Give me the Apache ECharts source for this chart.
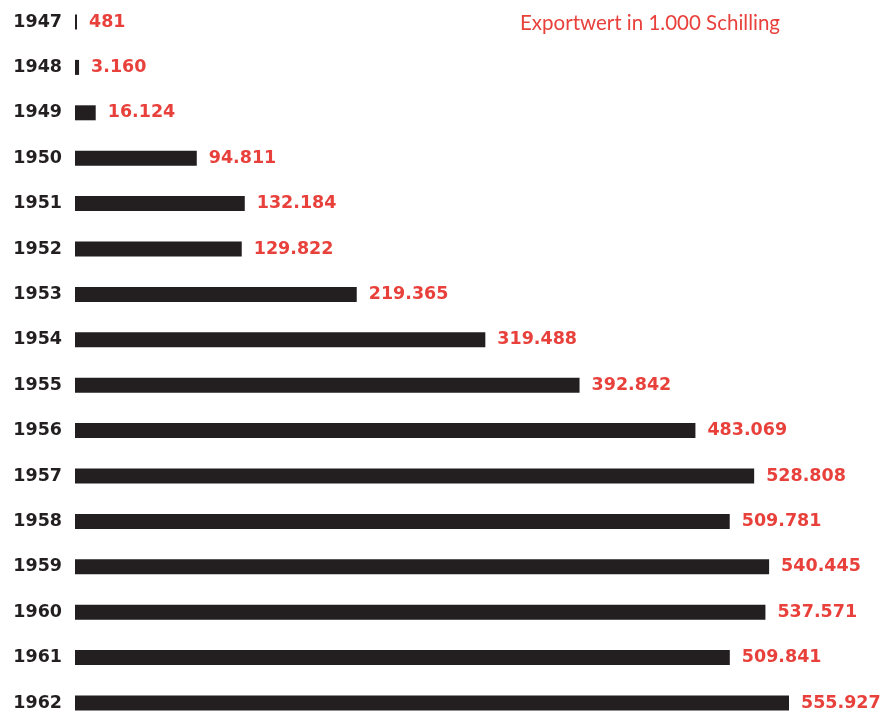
<!DOCTYPE html>
<html><head><meta charset="utf-8">
<script src="https://cdn.jsdelivr.net/npm/echarts@6/dist/echarts.min.js"></script>
<style>html,body{margin:0;padding:0;background:#fff}#c{width:884px;height:712px}</style>
</head><body><div id="c"></div>
<script>
const years = ['1947','1948','1949','1950','1951','1952','1953','1954','1955','1956','1957','1958','1959','1960','1961','1962'];
const exportValues = [481, 3160, 16124, 94811, 132184, 129822, 219365, 319488, 392842, 483069, 528808, 509781, 540445, 537571, 509841, 555927];
const titleText = 'Exportwert in 1.000 Schilling';

function fmt(v){ return String(v).replace(/\B(?=(\d{3})+(?!\d))/g, '.'); }

const chart = echarts.init(document.getElementById('c'));
chart.setOption({
  animation: false,
  backgroundColor: '#fff',
  title: {
    text: titleText, right: 99, top: 8,
    textStyle: {fontFamily: 'Lato', fontWeight: 'normal', fontSize: 20.5, color: '#e8413c'}
  },
  grid: {left: 75, width: 714, top: 22, bottom: 9, containLabel: false},
  xAxis: {type: 'value', min: 0, max: 555927, show: false},
  yAxis: {
    type: 'category', data: years, inverse: true, boundaryGap: false,
    axisLine: {show: false}, axisTick: {show: false},
    axisLabel: {margin: 13, fontFamily: 'DejaVu Sans', fontWeight: 'bold', fontSize: 17.5, color: '#231f20'}
  },
  series: [{
    type: 'bar', data: exportValues, barWidth: 15, barMinHeight: 2, clip: false,
    itemStyle: {color: '#231f20'},
    label: {
      show: true, position: 'right', distance: 12,
      fontFamily: 'DejaVu Sans', fontWeight: 'bold', fontSize: 17.5, color: '#e8413c',
      formatter: p => fmt(p.value)
    }
  }]
});
</script></body></html>
